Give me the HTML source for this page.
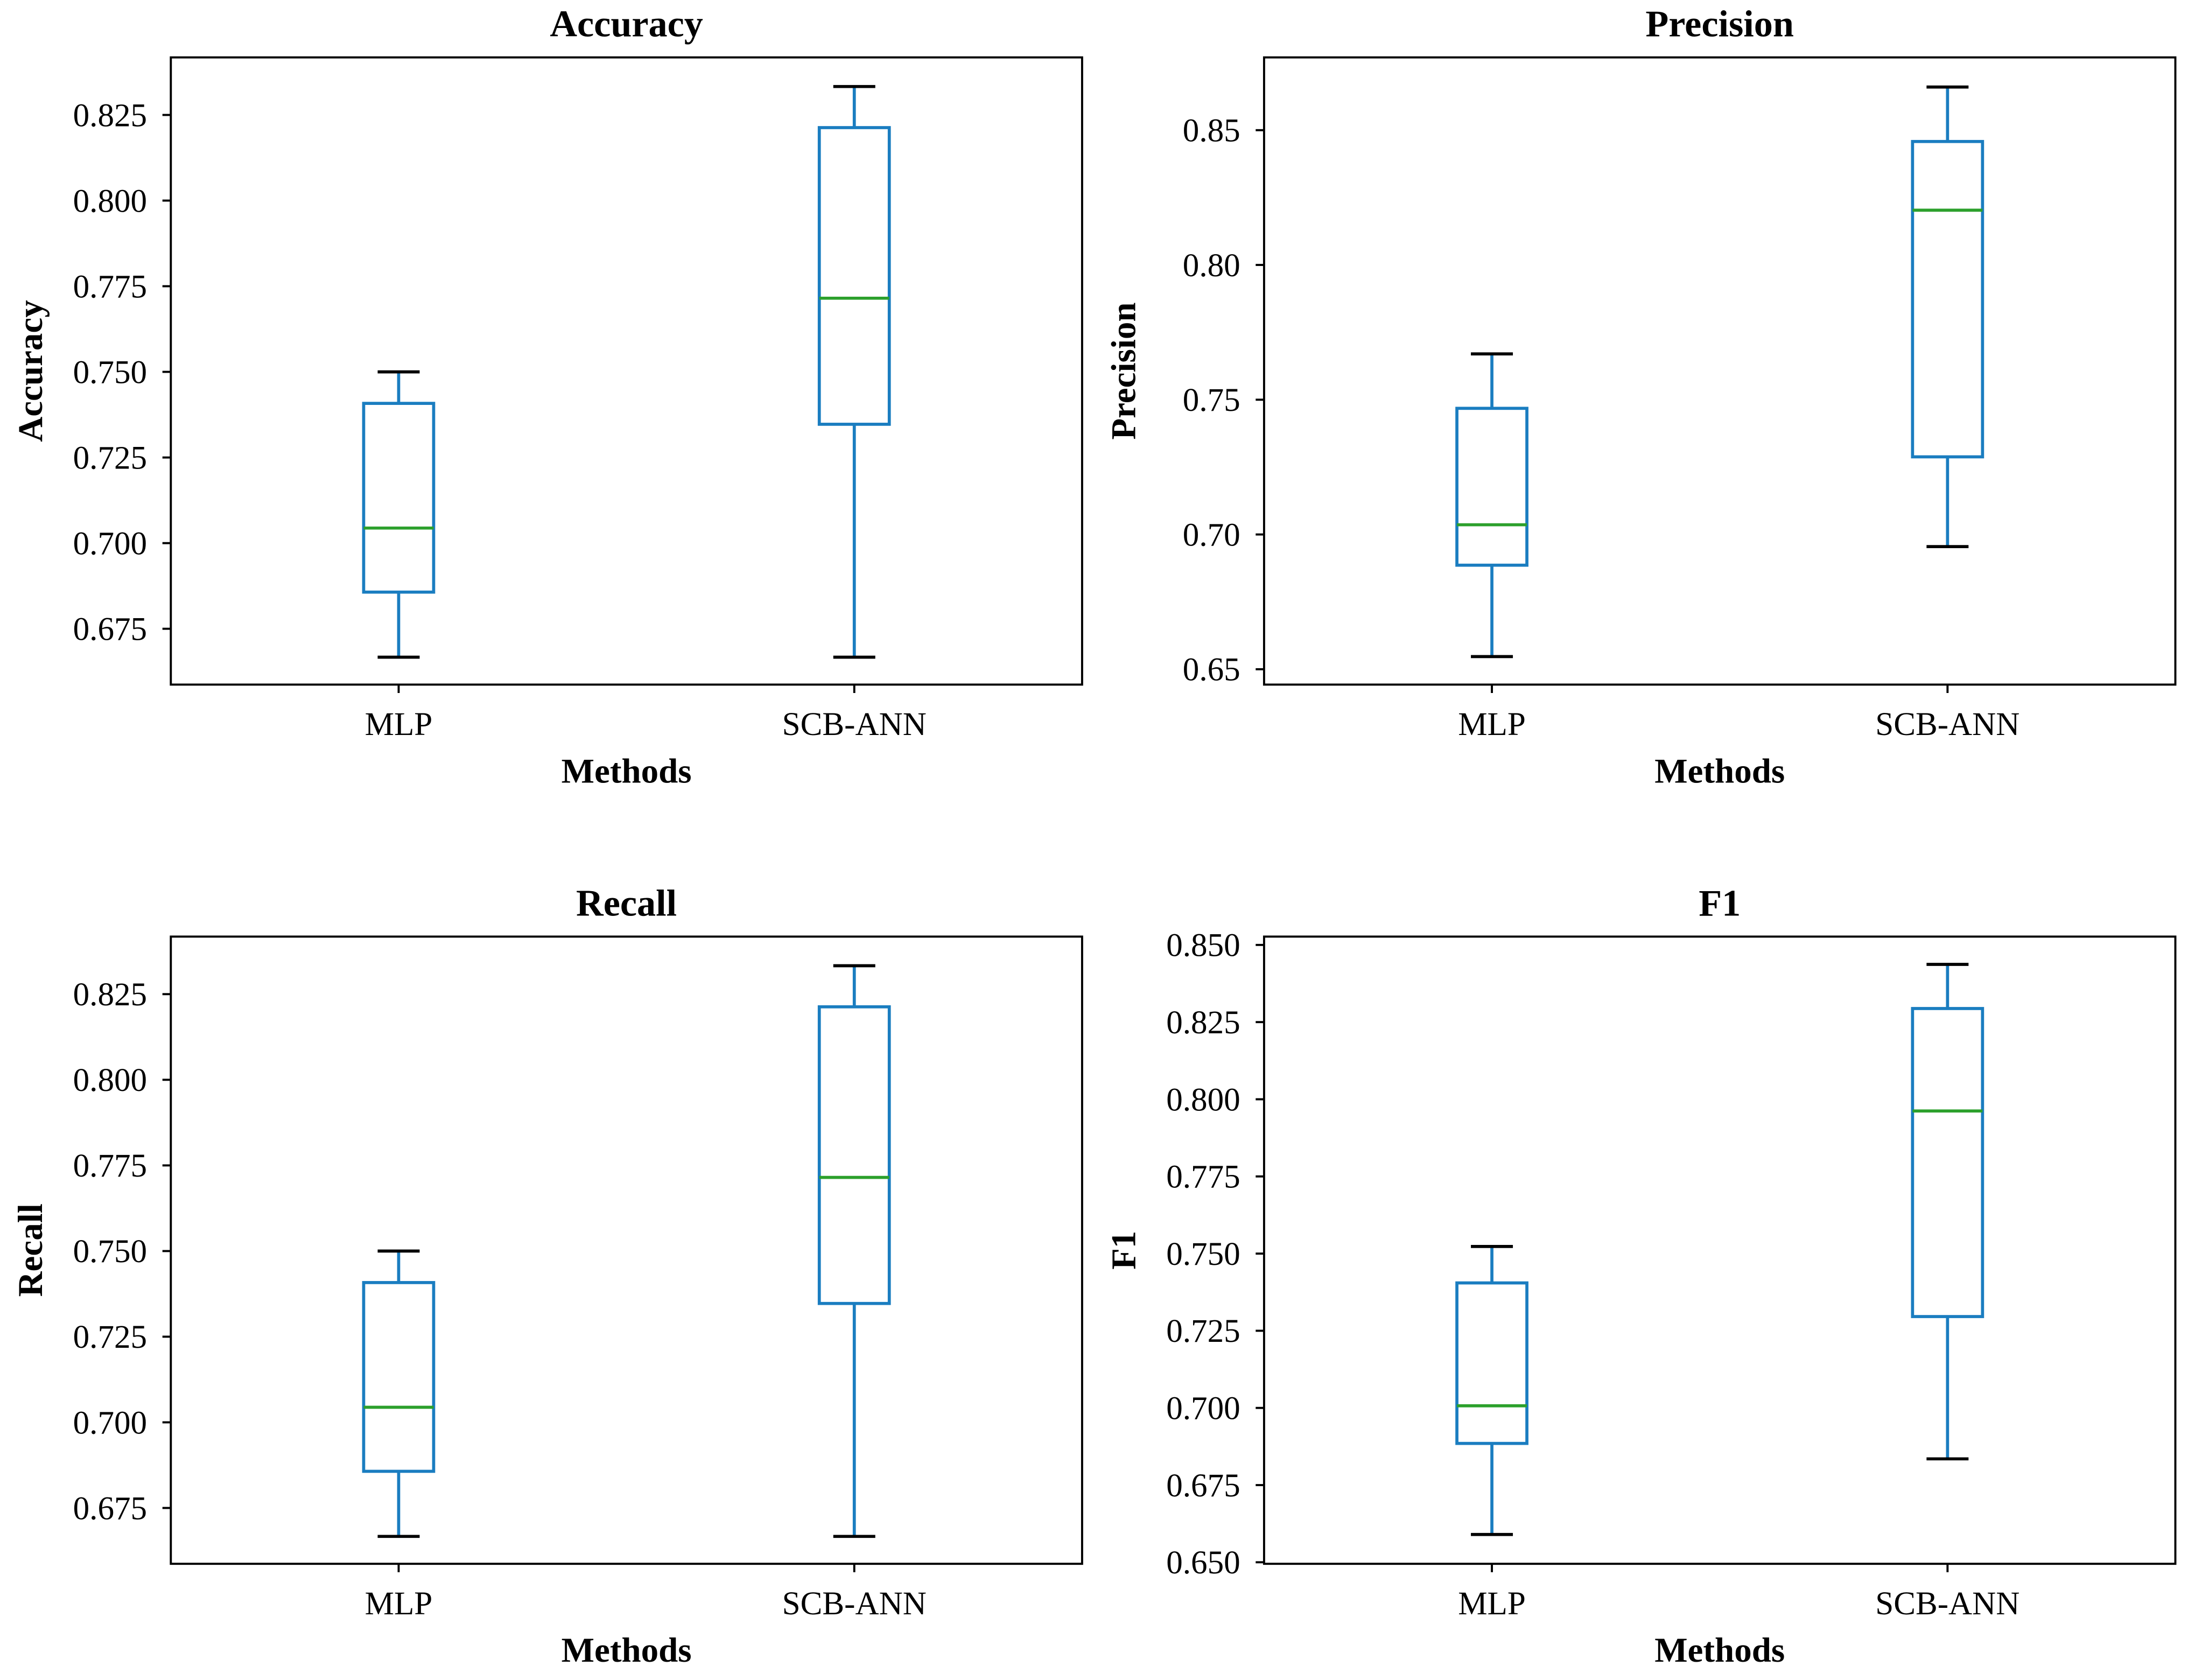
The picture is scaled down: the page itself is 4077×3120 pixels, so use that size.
<!DOCTYPE html>
<html><head><meta charset="utf-8"><style>
html,body{margin:0;padding:0;background:#fff}
svg{display:block}
text{font-family:"Liberation Serif",serif;fill:#000}
</style></head><body>
<svg id="chart" width="4077" height="3120" viewBox="0 0 1568 1200" xmlns="http://www.w3.org/2000/svg"></svg>
<script>
const categories = ["MLP", "SCB-ANN"];
const panelTitles = ["Accuracy", "Precision", "Recall", "F1"];
// [min, q1, median, q3, max] per method
const accuracyMLP = [0.6667, 0.6857, 0.7044, 0.7408, 0.75];
const accuracySCB = [0.6667, 0.7347, 0.7715, 0.8213, 0.8333];
const precisionMLP = [0.6547, 0.6886, 0.7036, 0.7468, 0.767];
const precisionSCB = [0.6955, 0.7288, 0.8203, 0.8458, 0.866];
const recallMLP = [0.6667, 0.6857, 0.7044, 0.7408, 0.75];
const recallSCB = [0.6667, 0.7347, 0.7715, 0.8213, 0.8333];
const f1MLP = [0.659, 0.6885, 0.7007, 0.7405, 0.7523];
const f1SCB = [0.6835, 0.7296, 0.7962, 0.8294, 0.8437];
const accTicks = [0.675, 0.700, 0.725, 0.750, 0.775, 0.800, 0.825];
const precTicks = [0.65, 0.70, 0.75, 0.80, 0.85];
const f1Ticks = [0.650, 0.675, 0.700, 0.725, 0.750, 0.775, 0.800, 0.825, 0.850];
const accDomain = [0.6587, 0.8418];
const precDomain = [0.6443, 0.877];
const f1Domain = [0.6495, 0.8527];

const svg = document.getElementById('chart');
const NS = 'http://www.w3.org/2000/svg';
function el(tag, attrs, parent) {
  const e = document.createElementNS(NS, tag);
  for (const k in attrs) e.setAttribute(k, attrs[k]);
  (parent || svg).appendChild(e);
  return e;
}
const panels = [
  {title: panelTitles[0], data: [accuracyMLP, accuracySCB], ticks: accTicks, dom: accDomain, dec: 3, x0: 122, y0: 41},
  {title: panelTitles[1], data: [precisionMLP, precisionSCB], ticks: precTicks, dom: precDomain, dec: 2, x0: 903, y0: 41},
  {title: panelTitles[2], data: [recallMLP, recallSCB], ticks: accTicks, dom: accDomain, dec: 3, x0: 122, y0: 669},
  {title: panelTitles[3], data: [f1MLP, f1SCB], ticks: f1Ticks, dom: f1Domain, dec: 3, x0: 903, y0: 669}
];
const W = 651, H = 448;
panels.forEach((p, pi) => {
  const g = el('g', {});
  
  
  const y = v => p.y0 + H - (v - p.dom[0]) / (p.dom[1] - p.dom[0]) * H;
  const x = i => p.x0 + W * (0.25 + 0.5 * i);
  p.ticks.forEach(t => {
    const tl = el('line', {x1: p.x0 - 6, x2: p.x0, y1: y(t), y2: y(t), stroke: '#000', 'stroke-width': 1.5}, g);
    
    
    const tx = el('text', {x: p.x0 - 17, y: y(t) + 8, 'text-anchor': 'end', 'font-size': 23.5}, g);
    
    
    tx.textContent = t.toFixed(p.dec);
  });
  categories.forEach((c, i) => {
    const tl = el('line', {x1: x(i), x2: x(i), y1: p.y0 + H, y2: p.y0 + H + 6, stroke: '#000', 'stroke-width': 1.5}, g);
    
    
    const tx = el('text', {x: x(i), y: p.y0 + H + 36, 'text-anchor': 'middle', 'font-size': 23.5}, g);
    
    
    tx.textContent = c;
    const d = p.data[i];
    const bw = 25, cw = 15;
    const wl = el('line', {x1: x(i), x2: x(i), y1: y(d[0]), y2: y(d[1]), stroke: '#1a7dc0', 'stroke-width': 2.2}, g);
    
    
    const wu = el('line', {x1: x(i), x2: x(i), y1: y(d[3]), y2: y(d[4]), stroke: '#1a7dc0', 'stroke-width': 2.2}, g);
    
    
    [0, 4].forEach(k => {
      const cp = el('line', {x1: x(i) - cw, x2: x(i) + cw, y1: y(d[k]), y2: y(d[k]), stroke: '#000', 'stroke-width': 2.2}, g);
      
      
    });
    const bx = el('rect', {x: x(i) - bw, y: y(d[3]), width: 2 * bw, height: y(d[1]) - y(d[3]), fill: 'none', stroke: '#1a7dc0', 'stroke-width': 2.2}, g);
    
    
    const md = el('line', {x1: x(i) - bw, x2: x(i) + bw, y1: y(d[2]), y2: y(d[2]), stroke: '#2ca02c', 'stroke-width': 2.2}, g);
    
    
  });
  const fr = el('rect', {x: p.x0, y: p.y0, width: W, height: H, fill: 'none', stroke: '#000', 'stroke-width': 1.5}, g);
  
  
  const tt = el('text', {x: p.x0 + W / 2, y: p.y0 - 15, 'text-anchor': 'middle', 'font-size': 27, 'font-weight': 'bold'}, g);
  
  
  tt.textContent = p.title;
  const xl = el('text', {x: p.x0 + W / 2, y: p.y0 + H + 70, 'text-anchor': 'middle', 'font-size': 25, 'font-weight': 'bold'}, g);
  
  
  xl.textContent = 'Methods';
  const lx = p.x0 - 92, ly = p.y0 + H / 2;
  const yl = el('text', {x: lx, y: ly, 'text-anchor': 'middle', 'font-size': 25, 'font-weight': 'bold', transform: 'rotate(-90 ' + lx + ' ' + ly + ')'}, g);
  
  
  yl.textContent = p.title;
});
</script>
</body></html>
